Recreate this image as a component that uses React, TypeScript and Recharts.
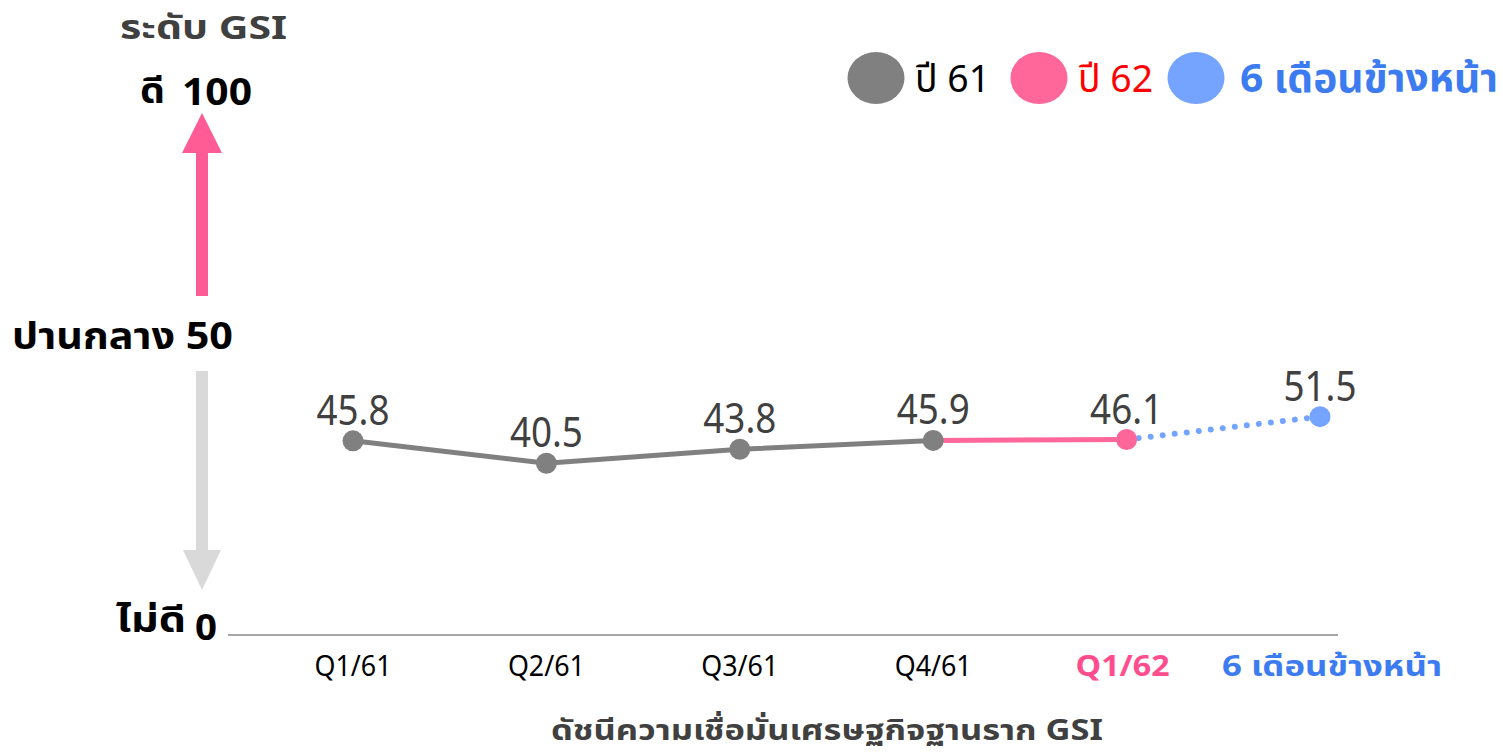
import { LineChart, Line, XAxis, YAxis, LabelList } from "recharts";

const categories = ["Q1/61", "Q2/61", "Q3/61", "Q4/61", "Q1/62", "6 เดือนข้างหน้า"];
const year61 = [45.8, 40.5, 43.8, 45.9, null, null];
const year62 = [null, null, null, 45.9, 46.1, null];
const ahead = [null, null, null, null, 46.1, 51.5];
const pointLabels = ["45.8", "40.5", "43.8", "45.9", "46.1", "51.5"];

const legendItems = [
  { name: "ปี 61", dot: "#808080", text: "#000000", bold: false },
  { name: "ปี 62", dot: "#ff6699", text: "#ff0000", bold: false },
  { name: "6 เดือนข้างหน้า", dot: "#74a4ff", text: "#3c7cf0", bold: true },
];

const FONT = "Tahoma, 'Noto Sans Thai', 'Noto Sans', 'DejaVu Sans', sans-serif";

const data = categories.map((c, i) => ({
  cat: c,
  y61: year61[i],
  y62: year62[i],
  ahead: ahead[i],
}));

// tick widths / nudges
const tickWidths = [77, 77, 77, 77, 94, 220];
const tickShift = [0, 0, 0, 0, -4, 12];

function Tick(props: any) {
  const { x, y, payload, index } = props;
  let fill = "#000";
  let weight = 400;
  if (index === 4) { fill = "#ff4d8d"; weight = 700; }
  if (index === 5) { fill = "#3c7cf0"; weight = 700; }
  return (
    <text x={x + tickShift[index]} y={y + 33} textAnchor="middle" fontSize={29} fontWeight={weight}
          fill={fill} fontFamily={FONT} textLength={tickWidths[index]} lengthAdjust="spacingAndGlyphs">
      {payload.value}
    </text>
  );
}

function dotAt(keep: number[], color: string) {
  return (p: any) => {
    if (!keep.includes(p.index) || p.cy == null) return <g key={p.key} />;
    return <circle key={p.key} cx={p.cx} cy={p.cy} r={10.5} fill={color} />;
  };
}

function labelAt(keep: number[]) {
  return (p: any) => {
    if (!keep.includes(p.index) || p.y == null) return null;
    return (
      <text x={p.x} y={p.y - 16} textAnchor="middle" fontSize={41}
            fill="#404040" fontFamily={FONT} textLength={73} lengthAdjust="spacingAndGlyphs">
        {pointLabels[p.index]}
      </text>
    );
  };
}

// legend slots: circle centre, text start, text width
const legendPos = [
  { cx: 876, tx: 915, tw: 75 },
  { cx: 1039, tx: 1078, tw: 75 },
  { cx: 1196, tx: 1240, tw: 258 },
];

export default function App() {
  return (
    <div style={{ position: "absolute", left: 0, top: 0, width: 1503, height: 754, background: "#fff" }}>
      <LineChart width={1503} height={754} data={data}
                 margin={{ top: 211, right: 165, bottom: 89, left: 228 }}>
        <XAxis dataKey="cat" padding={{ left: 125, right: 18 }} tickLine={false}
               axisLine={{ stroke: "#a6a6a6", strokeWidth: 2 }} tick={<Tick />} interval={0} />
        <YAxis hide domain={[0, 100]} />
        <Line dataKey="y61" stroke="#808080" strokeWidth={5} dot={dotAt([0, 1, 2, 3], "#808080")}
              activeDot={false} isAnimationActive={false}>
          <LabelList dataKey="y61" content={labelAt([0, 1, 2, 3])} />
        </Line>
        <Line dataKey="y62" stroke="#ff6699" strokeWidth={5} dot={dotAt([4], "#ff6699")}
              activeDot={false} isAnimationActive={false}>
          <LabelList dataKey="y62" content={labelAt([4])} />
        </Line>
        <Line dataKey="ahead" stroke="#74a4ff" strokeWidth={6} strokeDasharray="0.1 12"
              strokeLinecap="round" dot={dotAt([5], "#74a4ff")}
              activeDot={false} isAnimationActive={false}>
          <LabelList dataKey="ahead" content={labelAt([5])} />
        </Line>
      </LineChart>

      <svg width={1503} height={754} style={{ position: "absolute", left: 0, top: 0, pointerEvents: "none" }}
           fontFamily={FONT}>
        {legendItems.map((it, i) => (
          <g key={it.name}>
            <ellipse cx={legendPos[i].cx} cy={78} rx={28.5} ry={26} fill={it.dot} />
            <text x={legendPos[i].tx} y={92} fontSize={39} fill={it.text} fontWeight={it.bold ? 700 : 400}
                  textLength={legendPos[i].tw} lengthAdjust="spacingAndGlyphs">{it.name}</text>
          </g>
        ))}

        <text x={120} y={39} fontSize={33} fontWeight={700} fill="#404040"
              textLength={167} lengthAdjust="spacingAndGlyphs">ระดับ GSI</text>
        <text x={140} y={103} fontSize={36} fontWeight={700} fill="#000"
              textLength={25} lengthAdjust="spacingAndGlyphs">ดี</text>
        <text x={182} y={105} fontSize={37} fontWeight={700} fill="#000"
              textLength={70} lengthAdjust="spacingAndGlyphs">100</text>
        <polygon points="202,113 182,153 222,153" fill="#ff5c96" />
        <rect x={196} y={150} width={12} height={146} fill="#ff5c96" />
        <text x={12} y={349} fontSize={37} fontWeight={700} fill="#000"
              textLength={221} lengthAdjust="spacingAndGlyphs">ปานกลาง 50</text>
        <rect x={196} y={371} width={12} height={180} fill="#d9d9d9" />
        <polygon points="183,550 221,550 202,590" fill="#d9d9d9" />
        <text x={116} y={632} fontSize={36} fontWeight={700} fill="#000"
              textLength={70} lengthAdjust="spacingAndGlyphs">ไม่ดี</text>
        <text x={195} y={640} fontSize={35} fontWeight={700} fill="#000"
              textLength={22} lengthAdjust="spacingAndGlyphs">0</text>
        <text x={551} y={740} fontSize={28} fontWeight={700} fill="#404040"
              textLength={552} lengthAdjust="spacingAndGlyphs">ดัชนีความเชื่อมั่นเศรษฐกิจฐานราก GSI</text>
      </svg>
    </div>
  );
}
